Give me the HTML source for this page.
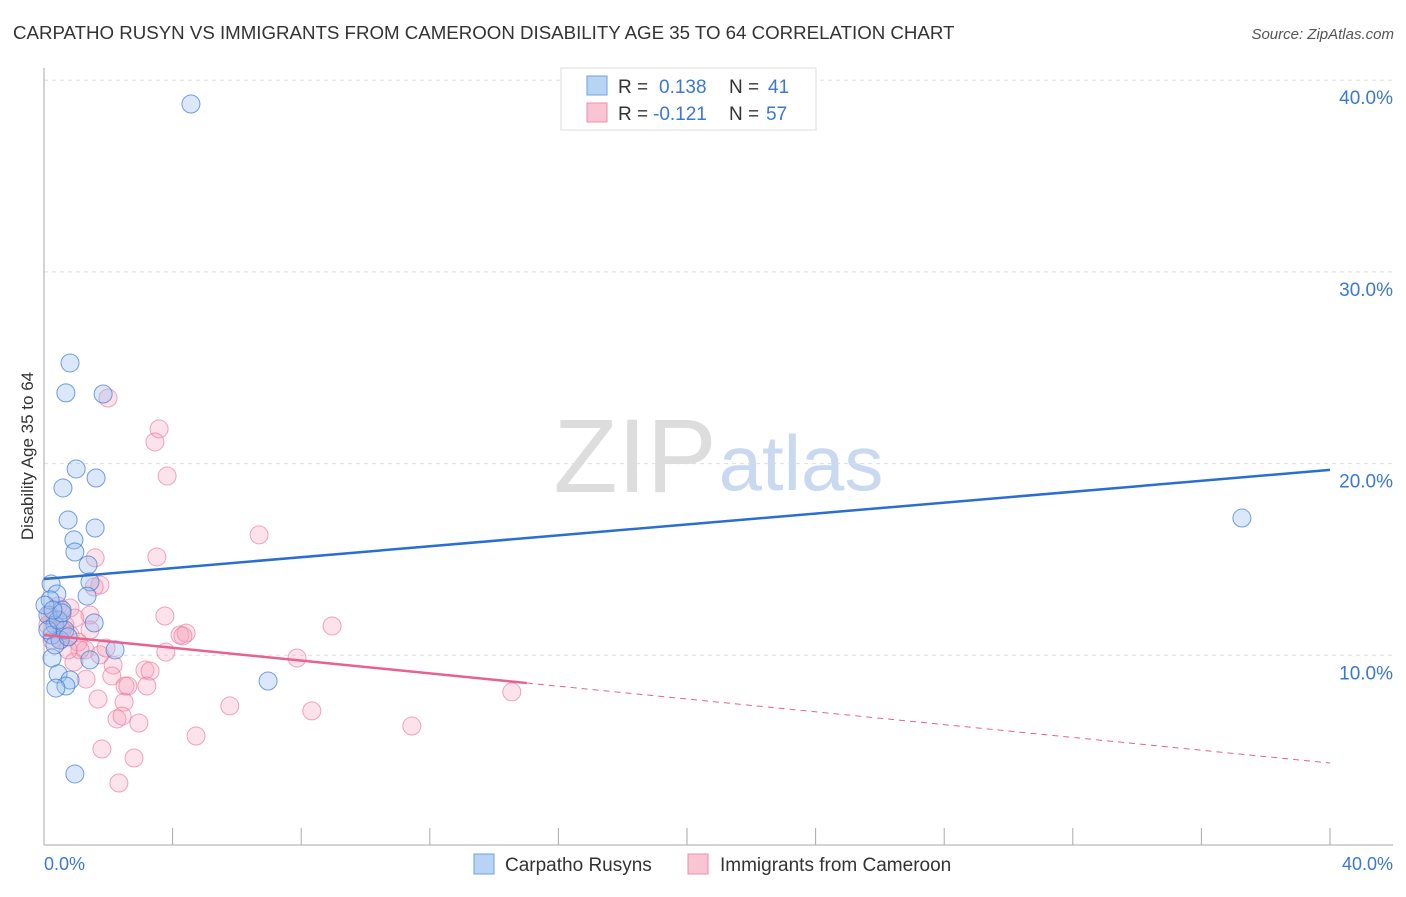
<!DOCTYPE html>
<html><head><meta charset="utf-8"><style>
body{margin:0;background:#fff;font-family:"Liberation Sans",sans-serif;}
svg text{font-family:"Liberation Sans",sans-serif;}
</style></head><body>
<svg id="chart" width="1406" height="892" xmlns="http://www.w3.org/2000/svg">
<text x="13" y="39" font-size="18.7" fill="#333">CARPATHO RUSYN VS IMMIGRANTS FROM CAMEROON DISABILITY AGE 35 TO 64 CORRELATION CHART</text>
<text x="1394" y="39" font-size="15" fill="#555" text-anchor="end" font-style="italic">Source: ZipAtlas.com</text>
<text transform="translate(33,456) rotate(-90)" font-size="17" fill="#333" text-anchor="middle">Disability Age 35 to 64</text>
<g>
<text x="635" y="492" font-size="105" fill="#ddd" font-family="Liberation Serif,serif" text-anchor="middle">ZIP</text>
<text x="801" y="490" font-size="78" fill="#c9d9f0" text-anchor="middle">atlas</text>
</g>
<g id="grid"></g><g id="axes"></g><g id="marks"></g>
<g>
<rect x="561" y="68" width="255" height="62" fill="#fff" stroke="#ddd"/>
<rect x="587" y="76" width="20" height="19" fill="#b8d4f5" stroke="#6fa0e0"/>
<rect x="587" y="103" width="20" height="19" fill="#f9c4d3" stroke="#eb8fab"/>
<text x="618" y="93" font-size="19" fill="#333">R =</text><text x="659" y="93" font-size="19" fill="#3b78d0">0.138</text>
<text x="729" y="93" font-size="19" fill="#333">N =</text><text x="768" y="93" font-size="19" fill="#3b78d0">41</text>
<text x="618" y="120" font-size="19" fill="#333">R =</text><text x="653" y="120" font-size="19" fill="#3b78d0">-0.121</text>
<text x="729" y="120" font-size="19" fill="#333">N =</text><text x="766" y="120" font-size="19" fill="#3b78d0">57</text>
</g>
<g>
<rect x="474" y="854" width="20" height="20" fill="#b8d4f5" stroke="#6fa0e0"/>
<text x="505" y="871" font-size="19" fill="#333">Carpatho Rusyns</text>
<rect x="688" y="854" width="20" height="20" fill="#f9c4d3" stroke="#eb8fab"/>
<text x="720" y="871" font-size="19" fill="#333">Immigrants from Cameroon</text>
</g>
</svg>
<script>
const yTicks=[10,20,30,40];
const yTickLabels=["10.0%","20.0%","30.0%","40.0%"];
const xEndLabels=["0.0%","40.0%"];
const blueX=[4.57,0.81,0.68,1.84,1.00,0.59,1.62,0.75,1.59,0.93,0.96,1.37,1.43,0.22,0.40,1.34,0.56,1.56,0.12,0.34,0.25,0.50,2.21,0.25,1.43,0.44,0.81,0.68,0.37,6.97,0.96,37.26,0.19,0.03,0.65,0.12,0.44,0.56,0.34,0.75,0.28];
const blueY=[38.76,25.25,23.69,23.63,19.72,18.73,19.25,17.06,16.64,16.02,15.39,14.71,13.83,13.72,13.20,13.09,12.36,11.69,12.10,11.58,11.06,10.80,10.28,9.86,9.76,9.03,8.71,8.40,8.29,8.66,3.81,17.16,12.89,12.62,11.32,11.32,11.84,12.21,10.54,10.96,12.36];
const pinkX=[1.99,3.58,3.45,3.83,6.69,1.59,3.51,1.74,1.56,3.76,8.96,1.43,0.81,0.44,0.19,0.12,0.56,0.81,1.06,1.28,1.74,1.93,3.79,4.23,4.42,4.32,7.87,2.15,3.14,3.30,2.11,1.31,0.93,1.12,2.52,2.61,3.20,5.78,1.68,2.49,8.33,2.27,2.43,2.95,11.44,14.55,4.73,1.80,2.80,2.33,0.50,0.34,0.65,0.25,1.43,0.96,0.75];
const pinkY=[23.42,21.81,21.13,19.35,16.28,15.08,15.13,13.67,13.56,12.05,11.53,12.10,12.47,12.57,12.10,11.58,11.32,11.06,10.69,10.28,10.02,10.38,10.17,11.06,11.16,11.01,9.86,9.49,9.23,9.18,8.92,8.76,9.65,10.28,8.40,8.40,8.40,7.36,7.72,7.56,7.10,6.68,6.83,6.47,6.31,8.09,5.79,5.11,4.64,3.34,10.80,11.84,11.58,10.80,11.32,11.94,10.28];
const blueTrend=[13.98,19.67];
const pinkTrend=[11.06,4.38];
const pinkSolidEnd=15.02;
const NS="http://www.w3.org/2000/svg";
const X=v=>44+v/40*1286, Y=v=>847-v*19.17;
function mk(t,a,p){const e=document.createElementNS(NS,t);for(const k in a)e.setAttribute(k,a[k]);document.getElementById(p).appendChild(e);return e;}
yTicks.forEach((t,i)=>{
 const g=mk('line',{x1:44,x2:1393,y1:Y(t),y2:Y(t),stroke:'#ddd','stroke-dasharray':'4,4'},'grid');
 
 
 const l=mk('text',{x:1393,y:Y(t)+24,'font-size':19,fill:'#3b78d0','text-anchor':'end'},'axes');l.textContent=yTickLabels[i];
 
 
});
mk('line',{x1:44,x2:44,y1:68,y2:845,stroke:'#aaa'},'axes');
const xa=mk('line',{x1:44,x2:1393,y1:845,y2:845,stroke:'#aaa'},'axes');


for(let i=1;i<=10;i++){mk('line',{x1:X(i*4),x2:X(i*4),y1:828,y2:845,stroke:'#aaa'},'axes');}
const a0=mk('text',{x:44,y:870,'font-size':18,fill:'#3b78d0'},'axes');a0.textContent=xEndLabels[0];


const a1=mk('text',{x:1393,y:870,'font-size':18,fill:'#3b78d0','text-anchor':'end'},'axes');a1.textContent=xEndLabels[1];


pinkX.forEach((x,i)=>{const c=mk('circle',{cx:X(x),cy:Y(pinkY[i]),r:9,fill:'rgba(245,160,185,0.3)',stroke:'rgba(232,120,155,0.65)','stroke-width':1},'marks');
 
 });
blueX.forEach((x,i)=>{const c=mk('circle',{cx:X(x),cy:Y(blueY[i]),r:9,fill:'rgba(150,190,240,0.35)',stroke:'rgba(60,120,210,0.7)','stroke-width':1},'marks');
 
 });
const bl=mk('line',{x1:X(0),y1:Y(blueTrend[0]),x2:X(40),y2:Y(blueTrend[1]),stroke:'#2a6fd0','stroke-width':2.5},'marks');


const pm=v=>pinkTrend[0]+(pinkTrend[1]-pinkTrend[0])*v/40;
const ps=mk('line',{x1:X(0),y1:Y(pinkTrend[0]),x2:X(pinkSolidEnd),y2:Y(pm(pinkSolidEnd)),stroke:'#e8628f','stroke-width':2.5},'marks');


const pd=mk('line',{x1:X(pinkSolidEnd),y1:Y(pm(pinkSolidEnd)),x2:X(40),y2:Y(pinkTrend[1]),stroke:'#e8628f','stroke-width':1,'stroke-dasharray':'6,5'},'marks');


</script>
</body></html>
